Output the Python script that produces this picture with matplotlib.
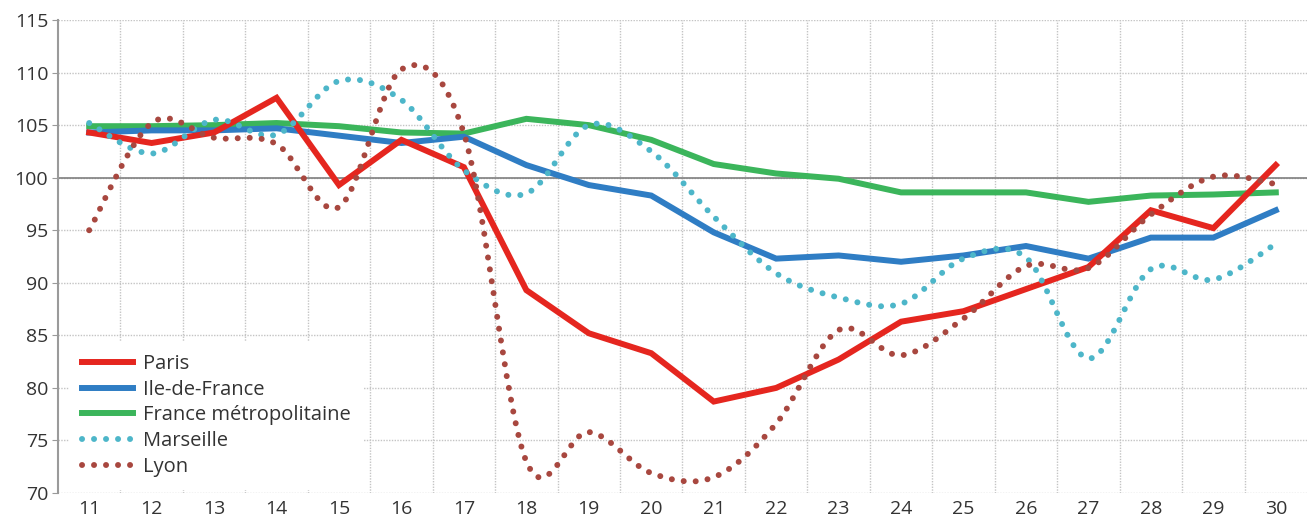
import matplotlib
matplotlib.use("Agg")
import matplotlib.pyplot as plt
from matplotlib.path import Path
from matplotlib.patches import PathPatch
from matplotlib.lines import Line2D

# data
weeks = list(range(11, 31))
paris = [104.3, 103.3, 104.3, 107.6, 99.3, 103.6, 101.0, 89.3, 85.2, 83.3,
         78.7, 80.0, 82.7, 86.3, 87.3, 89.4, 91.5, 96.9, 95.2, 101.2]
idf = [104.3, 104.5, 104.5, 104.7, 104.0, 103.3, 103.9, 101.2, 99.3, 98.3,
       94.8, 92.3, 92.6, 92.0, 92.6, 93.5, 92.3, 94.3, 94.3, 96.9]
france = [104.9, 104.9, 105.0, 105.2, 104.9, 104.3, 104.2, 105.6, 105.0, 103.6,
          101.3, 100.4, 99.9, 98.6, 98.6, 98.6, 97.7, 98.3, 98.4, 98.6]
marseille = [105.2, 102.3, 105.5, 104.1, 109.2, 107.4, 100.7, 98.5, 105.0, 102.5,
             96.3, 90.9, 88.6, 88.0, 92.3, 92.4, 82.8, 91.3, 90.3, 93.7]
lyon = [95.0, 105.2, 103.8, 103.2, 97.2, 110.3, 104.2, 73.0, 75.8, 71.9,
        71.5, 76.6, 85.5, 83.1, 86.6, 91.6, 91.4, 96.5, 100.1, 99.4]

names = ["Paris", "Ile-de-France", "France métropolitaine", "Marseille", "Lyon"]
colors = ["#e5261f", "#2f7dc4", "#3bb55b", "#4db6c9", "#a8473f"]

plt.rcParams['font.family'] = ['Open Sans', 'DejaVu Sans']


def smooth_path(xs, ys):
    # catmull-rom style bezier through the data points (excel "smoothed line")
    n = len(xs)
    verts = [(xs[0], ys[0])]
    codes = [Path.MOVETO]
    for i in range(n - 1):
        a = max(i - 1, 0)
        d = min(i + 2, n - 1)
        c1 = (xs[i] + (xs[i + 1] - xs[a]) / 6, ys[i] + (ys[i + 1] - ys[a]) / 6)
        c2 = (xs[i + 1] - (xs[d] - xs[i]) / 6, ys[i + 1] - (ys[d] - ys[i]) / 6)
        verts += [c1, c2, (xs[i + 1], ys[i + 1])]
        codes += [Path.CURVE4] * 3
    return Path(verts, codes)


fig = plt.figure(figsize=(13.14, 5.27), dpi=100)
ax = fig.add_axes([0.0441, 0.0645, 0.9506, 0.8975])

solid_lw = 4.3
dot_lw = 4.3
dots = (0, (0.01, 2.0))

ax.plot(weeks, france, color=colors[2], lw=solid_lw, zorder=3, solid_joinstyle='miter')
ax.plot(weeks, idf, color=colors[1], lw=solid_lw, zorder=4, solid_joinstyle='miter')
ax.plot(weeks, paris, color=colors[0], lw=solid_lw, zorder=5, solid_joinstyle='miter')

for vals, c, z in [(marseille, colors[3], 6), (lyon, colors[4], 7)]:
    patch = PathPatch(smooth_path(weeks, vals), fill=False, edgecolor=c,
                      lw=dot_lw, linestyle=dots, capstyle='round', zorder=z)
    ax.add_patch(patch)

ax.axhline(100, color="#7f7f7f", lw=1.2, zorder=2)

ax.set_xlim(10.5, 30.5)
ax.set_ylim(70, 115)
ax.set_xticks(weeks)
ax.set_yticks(range(70, 116, 5))
ax.set_xticks([w + 0.5 for w in weeks[:-1]], minor=True)

ax.grid(True, which='major', axis='y', color="#c4c4c4", linestyle=(0, (1, 1)), lw=1.0)
ax.grid(True, which='minor', axis='x', color="#c4c4c4", linestyle=(0, (1, 1)), lw=1.0)
ax.set_axisbelow(True)

for s in ['top', 'right', 'bottom']:
    ax.spines[s].set_visible(False)
ax.spines['left'].set_color("#9a9a9a")
ax.spines['left'].set_linewidth(1.5)

ax.tick_params(axis='y', length=4, color="#9a9a9a", labelsize=14, labelcolor="#333333", pad=3)
ax.tick_params(axis='x', length=0, labelsize=14, labelcolor="#333333", pad=5)
ax.tick_params(axis='x', which='minor', length=0)

handles = [
    Line2D([], [], color=colors[0], lw=solid_lw),
    Line2D([], [], color=colors[1], lw=solid_lw),
    Line2D([], [], color=colors[2], lw=solid_lw),
    Line2D([], [], color=colors[3], lw=dot_lw, linestyle=dots, dash_capstyle='round'),
    Line2D([], [], color=colors[4], lw=dot_lw, linestyle=dots, dash_capstyle='round'),
]
leg = ax.legend(handles, names, loc='lower left', bbox_to_anchor=(0.009, 0.006),
                frameon=True, fancybox=False, edgecolor='none', facecolor='white',
                framealpha=1, fontsize=14.5, handlelength=2.5, handletextpad=0.5,
                labelspacing=0.29, borderpad=0.65, borderaxespad=0)
for t in leg.get_texts():
    t.set_color("#333333")
leg.set_zorder(10)

fig.savefig("out.png", dpi=100)
